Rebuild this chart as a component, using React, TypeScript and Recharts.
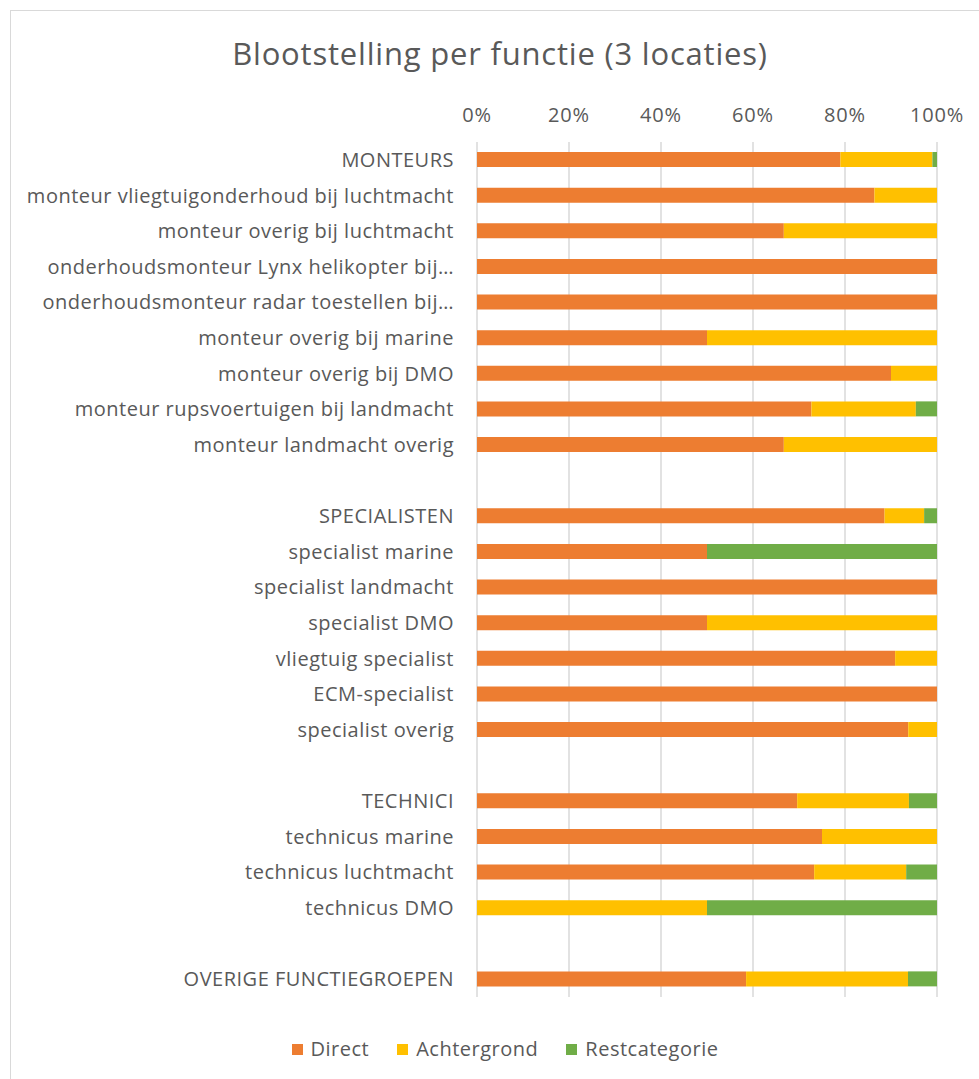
import React from 'react';
import { BarChart, Bar, XAxis, YAxis, CartesianGrid } from 'recharts';

const categories = [
  'MONTEURS',
  'monteur vliegtuigonderhoud bij luchtmacht',
  'monteur overig bij luchtmacht',
  'onderhoudsmonteur Lynx helikopter bij…',
  'onderhoudsmonteur radar toestellen bij…',
  'monteur overig bij marine',
  'monteur overig bij DMO',
  'monteur rupsvoertuigen bij landmacht',
  'monteur landmacht overig',
  '',
  'SPECIALISTEN',
  'specialist marine',
  'specialist landmacht',
  'specialist DMO',
  'vliegtuig specialist',
  'ECM-specialist',
  'specialist overig',
  '',
  'TECHNICI',
  'technicus marine',
  'technicus luchtmacht',
  'technicus DMO',
  '',
  'OVERIGE FUNCTIEGROEPEN',
];

const direct = [79, 86.4, 66.7, 100, 100, 50, 90, 72.7, 66.7, 0, 88.6, 50, 100, 50, 90.9, 100, 93.75, 0, 69.6, 75, 73.3, 0, 0, 58.5];
const achtergrond = [20, 13.6, 33.3, 0, 0, 50, 10, 22.7, 33.3, 0, 8.6, 0, 0, 50, 9.1, 0, 6.25, 0, 24.3, 25, 20, 50, 0, 35.2];
const restcategorie = [1, 0, 0, 0, 0, 0, 0, 4.6, 0, 0, 2.8, 50, 0, 0, 0, 0, 0, 0, 6.1, 0, 6.7, 50, 0, 6.3];

const xTicks = [0, 20, 40, 60, 80, 100];

const COLORS = { direct: '#ED7D31', achtergrond: '#FFC000', rest: '#70AD47' };
const TEXT = '#595959';
const FONT = '"Open Sans", "Noto Sans", sans-serif';

const data = categories.map((name, i) => ({
  id: 'r' + i,
  name,
  direct: direct[i],
  achtergrond: achtergrond[i],
  rest: restcategorie[i],
}));

const legendItems = [
  { label: 'Direct', color: COLORS.direct },
  { label: 'Achtergrond', color: COLORS.achtergrond },
  { label: 'Restcategorie', color: COLORS.rest },
];

export default function App() {
  return (
    <div style={{ position: 'absolute', left: 0, top: 0, width: 979, height: 1079, background: '#fff', fontFamily: FONT, overflow: 'hidden' }}>
      <div style={{ position: 'absolute', left: 10, top: 10, width: 980, height: 1080, border: '1px solid #d9d9d9' }} />
      <div style={{ position: 'absolute', left: 0, width: 1000, top: 31, lineHeight: '44px', textAlign: 'center', fontSize: 31, letterSpacing: 0.8, color: TEXT }}>
        Blootstelling per functie (3 locaties)
      </div>
      <div style={{ position: 'absolute', left: 0, top: 0 }}>
        <BarChart
          width={979}
          height={1079}
          data={data}
          layout="vertical"
          barSize={15}
          margin={{ top: 100, right: 42, bottom: 82, left: 0 }}
        >
          <CartesianGrid horizontal={false} stroke="#d9d9d9" strokeWidth={1.5} />
          <XAxis
            type="number"
            orientation="top"
            domain={[0, 100]}
            ticks={xTicks}
            tickFormatter={(v: number) => `${v}%`}
            axisLine={false}
            tickLine={false}
            tickSize={0}
            tickMargin={20}
            height={42}
            tick={{ fill: TEXT, fontSize: 20, fontFamily: FONT, letterSpacing: 0.8 }}
            interval={0}
          />
          <YAxis
            type="category"
            dataKey="id"
            width={477}
            axisLine={false}
            tickLine={false}
            tickSize={0}
            tickMargin={23}
            interval={0}
            tickFormatter={(v: string) => data.find((d) => d.id === v)?.name ?? ''}
            tick={{ fill: TEXT, fontSize: 20, fontFamily: FONT, letterSpacing: 0.5 }}
          />
          <Bar dataKey="direct" stackId="a" fill={COLORS.direct} isAnimationActive={false} />
          <Bar dataKey="achtergrond" stackId="a" fill={COLORS.achtergrond} isAnimationActive={false} />
          <Bar dataKey="rest" stackId="a" fill={COLORS.rest} isAnimationActive={false} />
        </BarChart>
      </div>
      <div style={{ position: 'absolute', top: 1035, left: 0, width: 1010, display: 'flex', justifyContent: 'center', gap: 28, fontSize: 20, letterSpacing: 0.5, lineHeight: '28px', color: TEXT }}>
        {legendItems.map((it) => (
          <div key={it.label} style={{ display: 'flex', alignItems: 'center', gap: 8 }}>
            <span style={{ width: 11, height: 11, background: it.color, display: 'inline-block' }} />
            <span>{it.label}</span>
          </div>
        ))}
      </div>
    </div>
  );
}
